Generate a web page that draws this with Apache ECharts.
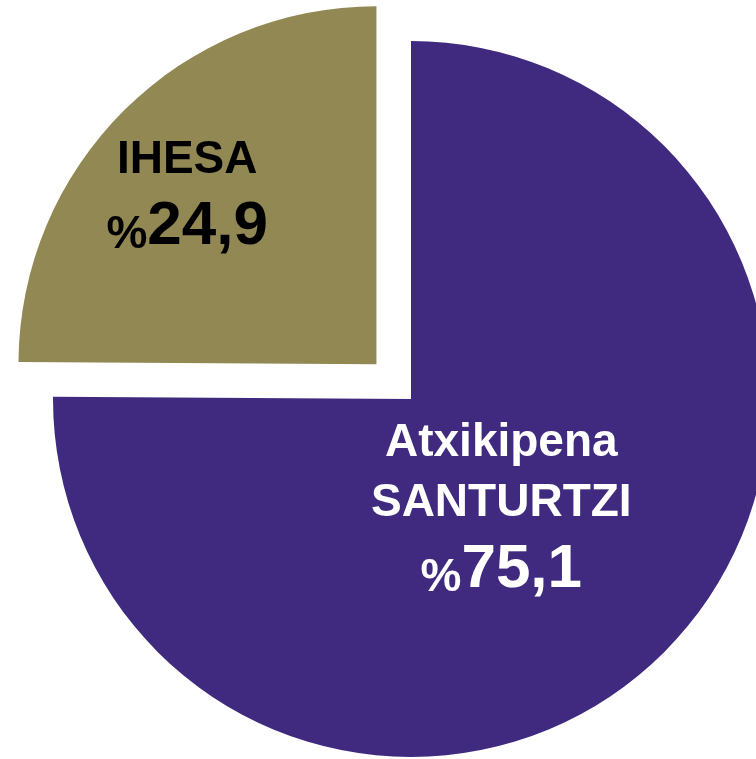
<!DOCTYPE html>
<html>
<head>
<meta charset="utf-8">
<style>
  html, body { margin: 0; padding: 0; background: #fff; }
  #chart { width: 756px; height: 759px; }
</style>
<script src="https://cdn.jsdelivr.net/npm/echarts@6/dist/echarts.min.js"></script>
</head>
<body>
<div id="chart"></div>
<script>
// slice names (label lines) and shares in percent
const categories = [['Atxikipena', 'SANTURTZI'], ['IHESA']]
const values = [75.1, 24.9]
const colors = ['#3f2a7f', '#918853']
const textColors = ['#ffffff', '#000000']
// nudge labels from the default inside spot
const labelShift = [[-38, -21], [-61, -41]]

const mychart = echarts.init(document.getElementById('chart'))

const richFor = (color) => ({
  n: { fontSize: 46, fontWeight: 'bold', color: color, lineHeight: 60, fontFamily: 'Liberation Sans, Arial' },
  p: { fontSize: 46, fontWeight: 'bold', color: color, lineHeight: 68, verticalAlign: 'bottom', fontFamily: 'Liberation Sans, Arial' },
  v: { fontSize: 62, fontWeight: 'bold', color: color, lineHeight: 68, verticalAlign: 'bottom', fontFamily: 'Liberation Sans, Arial' }
})

mychart.setOption({
  animation: false,
  series: [
    {
      type: 'pie',
      center: [411, 399],
      radius: 358,
      startAngle: 90,
      clockwise: true,
      selectedMode: 'single',
      selectedOffset: 49,
      emphasis: { disabled: true },
      labelLine: { show: false },
      label: {
        show: true,
        position: 'inside',
        formatter: function (p) {
          const lines = categories[p.dataIndex].map((s) => '{n|' + s + '}')
          const num = values[p.dataIndex].toFixed(1).replace('.', ',')
          return lines.join('\n') + '\n{p|%}{v|' + num + '}'
        }
      },
      labelLayout: function (params) {
        const s = labelShift[params.dataIndex]
        return { dx: s[0], dy: s[1] }
      },
      data: values.map((v, i) => ({
        value: v,
        name: categories[i].join(' '),
        selected: i === 1,
        itemStyle: { color: colors[i] },
        label: { rich: richFor(textColors[i]) }
      }))
    }
  ]
})
</script>
</body>
</html>
